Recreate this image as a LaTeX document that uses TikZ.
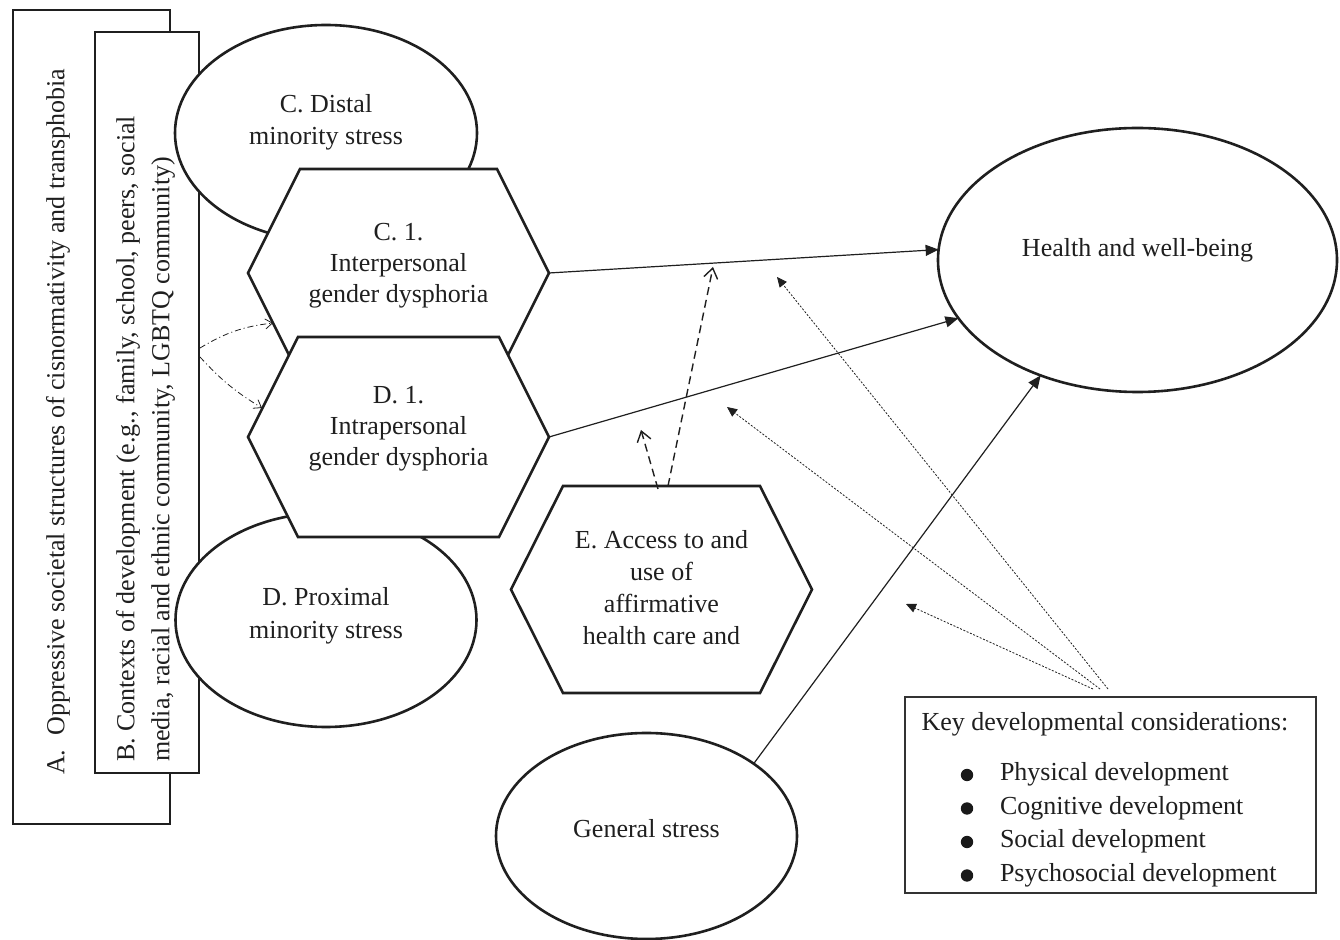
\documentclass[tikz,border=0pt]{standalone}
\usepackage{fontspec}
\setmainfont{Liberation Serif}
\usetikzlibrary{arrows.meta,calc,shapes.geometric}
\begin{document}
\begin{tikzpicture}[x=0.5pt,y=-0.5pt,
  every node/.style={font=\fontsize{13}{16}\selectfont, inner sep=0pt, outer sep=0pt, text=black!88},
  shapeline/.style={draw=black!88, line width=1.3pt, fill=white},
  ell/.style={shapeline, ellipse},
  bigbox/.style={shapeline, rectangle},
  hexnode/.style={rectangle, draw=none, minimum width=150.5pt},
  keyline/.style={draw=black!80, line width=0.8pt, fill=white, rectangle},
  bulletdot/.style={fill=black!90},
  solidarrow/.style={draw=black!88, line width=0.6pt, -{Triangle[length=6.5pt,width=5.5pt]}},
  dotarrow/.style={draw=black!88, line width=0.4pt, dash pattern=on 1pt off 0.8pt, -{Triangle[length=5pt,width=4.5pt]}},
  dasharrow/.style={draw=black!88, line width=0.7pt, dash pattern=on 4pt off 2.5pt, -{Straight Barb[length=5pt,width=7pt]}},
  dashdotarrow/.style={draw=black!88, line width=0.4pt, dash pattern=on 3pt off 1.5pt on 0.5pt off 1.5pt, -{Straight Barb[length=3.5pt,width=5pt]}}
]
\fill[white] (0,0) rectangle (1340,940);
\useasboundingbox (0,0) rectangle (1340,940);

% A and B boxes
\node[bigbox, minimum width=78.5pt, minimum height=407pt] (A) at (91.5,417) {};
\node[rotate=90, anchor=west] (At) at (58,775) {A.\hspace{7pt}Oppressive societal structures of cisnormativity and transphobia};
\node[bigbox, minimum width=52pt, minimum height=370.5pt] (B) at (147,402.5) {};
\node[rotate=90, anchor=west, align=left, font=\fontsize{13}{17.5}\selectfont] (Bt) at (145.5,762) {B. Contexts of development (e.g., family, school, peers, social\\media, racial and ethnic community, LGBTQ community)};

% C distal ellipse
\node[ell, minimum width=151pt, minimum height=108pt] (Cd) at (326,133) {};
\node[align=center] (Cdt) at (326,122) {C. Distal\\minority stress};

% C1 hexagon
\node[hexnode, minimum height=104pt] (C1) at (398.5,273) {};
\draw[shapeline] (C1.west) -- ++(52,-104) -- ++(197,0) -- (C1.east) -- ++(-52,104) -- ++(-197,0) -- cycle;
\node[align=center, font=\fontsize{13}{15.5}\selectfont] (C1t) at (398.5,266) {C. 1.\\Interpersonal\\gender dysphoria};

% D proximal ellipse
\node[ell, minimum width=150.5pt, minimum height=107pt] (Dp) at (326,620) {};
\node[align=center, font=\fontsize{13}{16.5}\selectfont] (Dpt) at (326,615.5) {D. Proximal\\minority stress};

% D1 hexagon
\node[hexnode, minimum height=100pt] (D1) at (398.5,437) {};
\draw[shapeline] (D1.west) -- ++(50,-100) -- ++(201,0) -- (D1.east) -- ++(-50,100) -- ++(-201,0) -- cycle;
\node[align=center, font=\fontsize{13}{15.5}\selectfont] (D1t) at (398.5,429) {D. 1.\\Intrapersonal\\gender dysphoria};

% E hexagon
\node[hexnode, minimum height=103.5pt] (E) at (661.5,589.5) {};
\draw[shapeline] (E.west) -- ++(52,-103.5) -- ++(197,0) -- (E.east) -- ++(-52,103.5) -- ++(-197,0) -- cycle;
\node[align=center, font=\fontsize{13}{16}\selectfont] (Et) at (661.5,588) {E. Access to and\\use of\\affirmative\\health care and};

% General stress
\node[ell, minimum width=150.5pt, minimum height=103pt] (G) at (646.5,836) {};
\node (Gt) at (646.5,829) {General stress};

% Health
\node[ell, minimum width=199.5pt, minimum height=132pt] (H) at (1137.5,260) {};
\node (Ht) at (1137.5,250) {Health and well-being};

% Key box
\node[keyline, minimum width=205.5pt, minimum height=98pt] (key) at (1110.5,795) {};
\node[anchor=base west] (keyt) at (921.5,731) {Key developmental considerations:};
\node[anchor=west, align=left, font=\fontsize{13}{16.75}\selectfont] (keyl) at (1000,825) {Physical development\\Cognitive development\\Social development\\Psychosocial development};
\foreach \yy in {775,808.5,842,875.5} \fill[bulletdot] (967,\yy) circle (3.1pt);

% connectors
\draw[solidarrow] (C1.east) -- (H.177);
\draw[solidarrow] (D1.east) -- (H.198);
\draw[solidarrow] (G.34) -- (H.230);

\coordinate (k1) at ($(key.north)+(-17.5,-8)$);
\coordinate (k2) at ($(key.north)+(-10.5,-8)$);
\coordinate (k3) at ($(key.north)+(-2.5,-8)$);
\coordinate (t1) at (906,604);
\coordinate (t2) at (727,407);
\coordinate (t3) at (777,277);
\draw[dotarrow] (k1) -- (t1);
\draw[dotarrow] (k2) -- (t2);
\draw[dotarrow] (k3) -- (t3);

\coordinate (e1) at ($(E.north)+(-3.5,3)$);
\coordinate (e2) at ($(E.north)+(6.5,0)$);
\coordinate (u1) at (641,430);
\coordinate (u2) at (713,267);
\draw[dasharrow] (e1) -- (u1);
\draw[dasharrow] (e2) -- (u2);

\coordinate (b1) at ($(B.east)+(1,-54.5)$);
\coordinate (b2) at ($(B.east)+(1,-45.5)$);
\coordinate (c1e) at (273,323);
\coordinate (d1e) at (262,408);
\draw[dashdotarrow] (b1) to[bend left=12] (c1e);
\draw[dashdotarrow] (b2) to[bend right=8] (d1e);
\end{tikzpicture}
\end{document}
